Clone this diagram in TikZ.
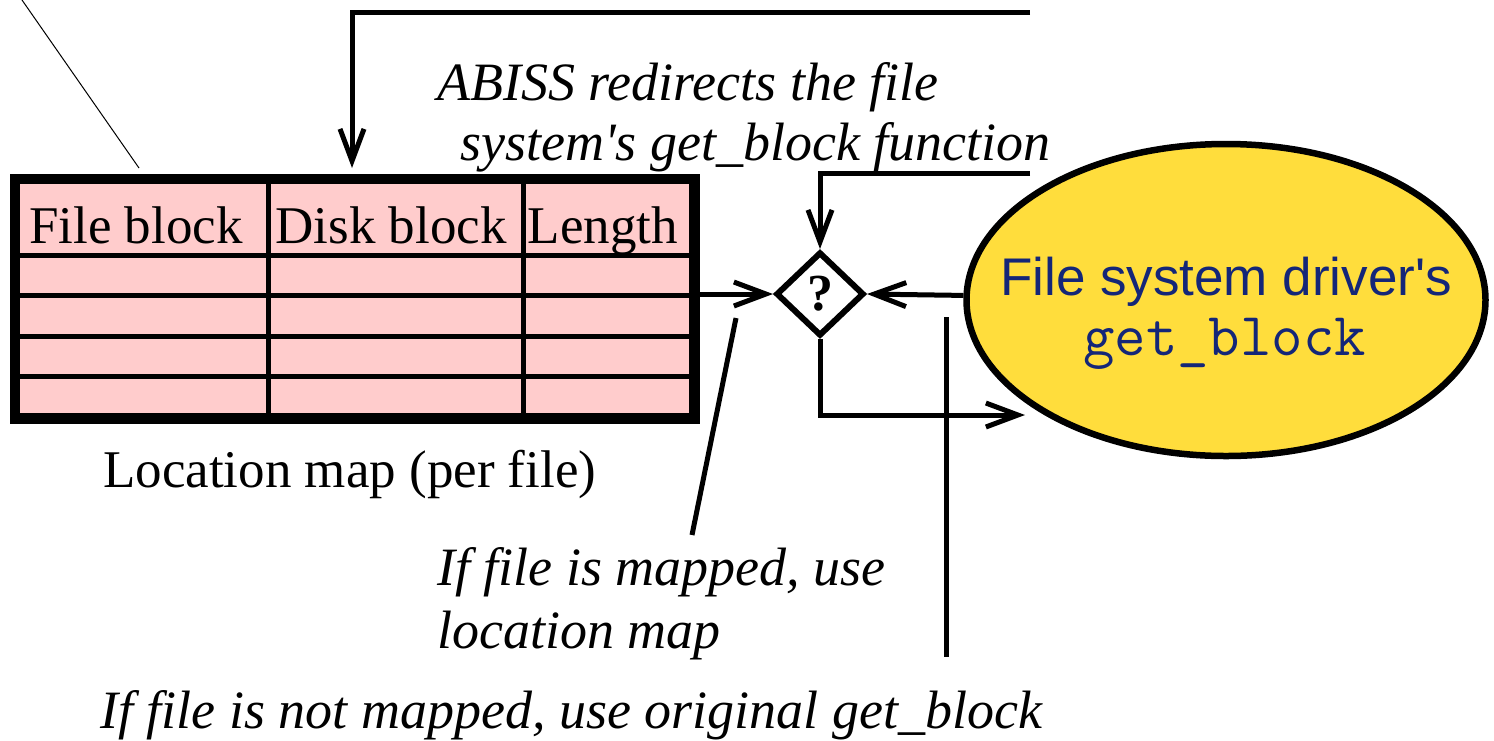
\documentclass[tikz,border=0pt]{standalone}
\usepackage{fontspec}
\setmainfont{Liberation Serif}
\setsansfont{Liberation Sans}
\usetikzlibrary{arrows.meta,shapes.geometric}
\definecolor{mapfill}{RGB}{255,204,204}
\definecolor{drvfill}{RGB}{255,221,60}
\definecolor{drvtext}{RGB}{20,38,120}
\newcommand{\bigsize}{\fontsize{53}{60}\selectfont}
\newcommand{\notesize}{\fontsize{54}{60}\selectfont}

\begin{document}
\begin{tikzpicture}[x=1pt,y=-1pt,
  conn/.style={line width=5pt},
  arr/.style={conn,-{Straight Barb[length=32pt,width=24pt]}},
  grid/.style={line width=5pt},
  note/.style={inner sep=0pt,anchor=base west,font=\notesize\itshape},
  head/.style={inner sep=0pt,anchor=base,font=\bigsize},
]
\useasboundingbox (0,0) rectangle (1494,740);

% location map table
\node[draw,line width=7pt,fill=mapfill,minimum width=676pt,minimum height=236pt,
      inner sep=0pt,anchor=north west] (map) at (13,177) {};
\foreach \yy in {255,295,336,376} \draw[grid] (13,\yy) -- (689,\yy);
\foreach \xx in {268,523} \draw[grid] (\xx,177) -- (\xx,413);
\draw[line width=7pt] (map.north west) rectangle (map.south east);
\node[head] (hfile) at (136,243) {File block};
\node[head] (hdisk) at (391,243) {Disk block};
\node[head] (hlen)  at (603,243) {Length};
\node[inner sep=0pt,anchor=base west,font=\bigsize] (mapcap) at (103,487) {Location map (per file)};

% decision and driver
\node[diamond,draw,line width=6pt,fill=white,minimum width=88pt,minimum height=84pt,
      inner sep=0pt,font=\fontsize{52}{56}\selectfont\bfseries] (q) at (820,294) {?};
\node[ellipse,draw,line width=6.5pt,fill=drvfill,minimum width=519pt,minimum height=312pt,
      inner sep=0pt] (drv) at (1226,300) {};
\node[inner sep=0pt,anchor=base,text=drvtext,font=\sffamily\bigsize] (drvname) at (1226,295)
      {File system driver\textquotesingle s};
\node[inner sep=0pt,anchor=base west,text=drvtext,font=\ttfamily\fontsize{61}{64}\selectfont] (drvfn) at (1083,355)
      {get\_block};

% notes
\node[note] (redir1) at (437,100) {ABISS redirects the file};
\node[note] (redir2) at (460,160) {system\textquotesingle s get\_block function};
\node[note] (map1) at (437,585) {If file is mapped, use};
\node[note] (map2) at (437,648) {location map};
\node[note] (orig) at (100,728) {If file is not mapped, use original get\_block};

% connectors
\coordinate (t0) at (1030,12);
\coordinate (mapin) at (352,168);
\coordinate (t1) at (1030,173);
\coordinate (drvin) at (1025,415);
\coordinate (v0) at (946,317);
\coordinate (v1) at (946,657);
\coordinate (p0) at (736,318);
\coordinate (p1) at (692,535);
\coordinate (s0) at (22,0);
\coordinate (s1) at (139,168);

\draw[arr] (t0) -| (mapin);
\draw[arr] (t1) -| (q.north);
\draw[arr] (map.east |- q) -- (q.west);
\draw[arr] (drv.179) -- (q.east);
\draw[arr] (q.south) |- (drvin);
\draw[conn] (v0) -- (v1);
\draw[conn] (p0) -- (p1);
\draw[line width=1pt] (s0) -- (s1);
\end{tikzpicture}
\end{document}
